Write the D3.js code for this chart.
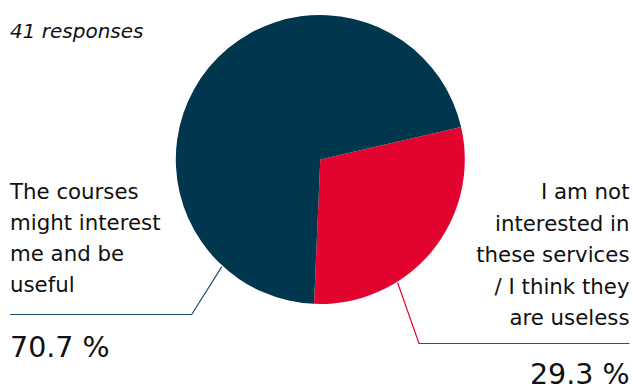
<!DOCTYPE html>
<html><head><meta charset="utf-8">
<script src="https://cdn.jsdelivr.net/npm/d3@7"></script>
<style>
html,body{margin:0;padding:0;background:#fff;}
svg{display:block;font-family:"DejaVu Sans",sans-serif;}
</style></head>
<body>
<svg id="chart" width="633" height="392"></svg>
<script>
const categories = ["I am not interested in these services / I think they are useless", "The courses might interest me and be useful"];
const values = [29.3, 70.7];
const labelLines = [["I am not","interested in","these services","/ I think they","are useless"],["The courses","might interest","me and be","useful"]];
const colors = ["#e3032f", "#01364f"];
const totalText = "41 responses";

const svg = d3.select("#chart");
const cx = 320.3, cy = 159.5, r = 144.5;
const start = 77 * Math.PI / 180;

const pie = d3.pie().sort(null).value(d => d).startAngle(start).endAngle(start + 2 * Math.PI);
const arcs = pie(values);
const arc = d3.arc().innerRadius(0).outerRadius(r);

const g = svg.append("g").attr("transform", `translate(${cx},${cy})`);
g.selectAll("path").data(arcs).join("path")
  .attr("d", arc).attr("fill", (d, i) => colors[i]);

svg.append("text").attr("x", 10).attr("y", 38)
  .attr("font-size", 20).attr("font-style", "italic").attr("fill", "#111")
  .text(totalText);

// leader lines
const leaderAngle = [147.9, 222.6];
const pt = (a, rad) => [cx + rad * Math.sin(a * Math.PI / 180), cy - rad * Math.cos(a * Math.PI / 180)];
const line = d3.line();
{
  const p0 = pt(leaderAngle[0], r + 1);
  svg.append("path").attr("d", line([p0, [419, 343.5], [629.5, 343.5]]))
    .attr("fill", "none").attr("stroke", colors[0]).attr("stroke-width", 1.2);
}
{
  const p0 = pt(leaderAngle[1], r + 1);
  svg.append("path").attr("d", line([p0, [191.7, 314.5], [10, 314.5]]))
    .attr("fill", "none").attr("stroke", "#1d4d69").attr("stroke-width", 1.2);
}

// labels
const fs = 21.3;
const right = svg.append("text").attr("text-anchor", "end").attr("font-size", fs).attr("fill", "#111");
labelLines[0].forEach((t, i) => right.append("tspan").attr("x", 629.5).attr("y", 199 + i * 31.6).text(t));
const left = svg.append("text").attr("text-anchor", "start").attr("font-size", fs).attr("fill", "#111");
labelLines[1].forEach((t, i) => left.append("tspan").attr("x", 10).attr("y", 199 + i * 31).text(t));

svg.append("text").attr("x", 10).attr("y", 357).attr("font-size", 28.5).attr("fill", "#111")
  .text(values[1].toFixed(1) + " %");
svg.append("text").attr("x", 629.5).attr("y", 384).attr("text-anchor", "end").attr("font-size", 28.5).attr("fill", "#111")
  .text(values[0].toFixed(1) + " %");
</script>
</body></html>
